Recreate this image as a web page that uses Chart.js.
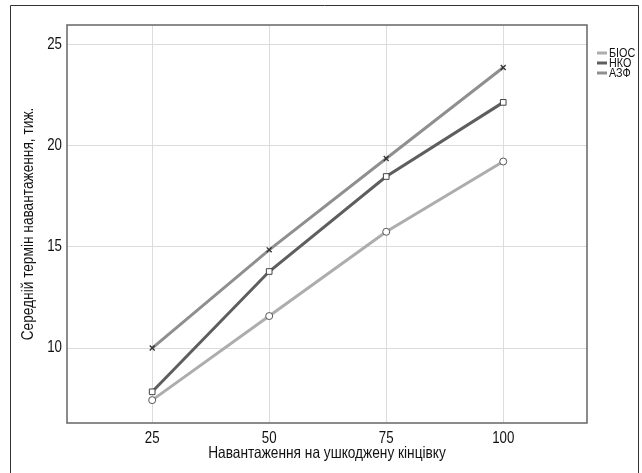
<!DOCTYPE html>
<html>
<head>
<meta charset="utf-8">
<script src="https://cdn.jsdelivr.net/npm/chart.js@4/dist/chart.umd.min.js"></script>
<style>
html,body{margin:0;padding:0;background:#fff;}
#wrap{position:relative;width:642px;height:473px;}
</style>
</head>
<body>
<div id="wrap"><canvas id="c" width="642" height="473"></canvas></div>
<script>
const categories = [25, 50, 75, 100];
const biosValues = [7.43, 11.58, 15.74, 19.21];
const nkoValues = [7.84, 13.78, 18.47, 22.13];
const azfValues = [10.0, 14.85, 19.36, 23.85];
const seriesNames = ['БІОС', 'НКО', 'АЗФ'];
const xTicks = [25, 50, 75, 100];
const yTicks = [10, 15, 20, 25];
const xTitle = 'Навантаження на ушкоджену кінцівку';
const yTitle = 'Середній термін навантаження, тиж.';

const FONT = '"Liberation Sans", Arial, sans-serif';
let narrow = 0.83;
const toPts = (vals) => categories.map((x, i) => ({x: x, y: vals[i]}));

const narrowText = {
  id: 'narrowText',
  beforeInit(chart) {
    const ctx = chart.ctx;
    if (ctx.__narrowed) return;
    const orig = ctx.fillText.bind(ctx);
    ctx.fillText = function (text, x, y, maxWidth) {
      ctx.save();
      ctx.translate(x, y);
      ctx.scale(narrow, 1);
      orig(text, 0, 0);
      ctx.restore();
    };
    ctx.__narrowed = true;
  }
};

const frame = {
  id: 'frame',
  beforeDraw(chart) {
    const ctx = chart.ctx;
    ctx.save();
    ctx.strokeStyle = '#333';
    ctx.lineWidth = 1;
    ctx.beginPath();
    ctx.moveTo(10.5, 480); ctx.lineTo(10.5, 5.5); ctx.lineTo(638.5, 5.5); ctx.lineTo(638.5, 480);
    ctx.stroke();
    ctx.restore();
  },
  afterDraw(chart) {
    const ctx = chart.ctx;
    const a = chart.chartArea;
    ctx.save();
    ctx.strokeStyle = '#666';
    ctx.lineWidth = 1.5;
    ctx.strokeRect(a.left, a.top, a.right - a.left, a.bottom - a.top);
    // legend
    ctx.font = '12px ' + FONT;
    ctx.textBaseline = 'middle';
    ctx.textAlign = 'left';
    ctx.fillStyle = '#111';
    const saved = narrow;
    narrow = 0.9;
    chart.data.datasets.forEach((ds, i) => {
      const y = 53 + i * 10;
      ctx.strokeStyle = ds.borderColor;
      ctx.lineWidth = 3;
      ctx.beginPath(); ctx.moveTo(597, y); ctx.lineTo(607, y); ctx.stroke();
      ctx.fillText(ds.label, 609, y + 0.5);
    });
    narrow = saved;
    ctx.restore();
  }
};

new Chart(document.getElementById('c'), {
  type: 'line',
  data: {
    datasets: [
      {label: seriesNames[0], data: toPts(biosValues), borderColor: '#adadad', borderWidth: 3,
       pointStyle: 'circle', pointRadius: 3.5, pointBorderColor: '#555', pointBackgroundColor: '#fff', pointBorderWidth: 1},
      {label: seriesNames[1], data: toPts(nkoValues), borderColor: '#5e5e5e', borderWidth: 3,
       pointStyle: 'rect', pointRadius: 4, pointBorderColor: '#444', pointBackgroundColor: '#fff', pointBorderWidth: 1},
      {label: seriesNames[2], data: toPts(azfValues), borderColor: '#8f8f8f', borderWidth: 3,
       pointStyle: 'crossRot', pointRadius: 3.5, pointBorderColor: '#333', pointBackgroundColor: '#333', pointBorderWidth: 1.3}
    ]
  },
  options: {
    responsive: false,
    animation: false,
    layout: {padding: {top: 25, right: 55, left: 0, bottom: 0}},
    plugins: {legend: {display: false}, tooltip: {enabled: false}},
    elements: {line: {tension: 0}},
    scales: {
      x: {
        type: 'linear', min: 6.8, max: 117.9,
        afterBuildTicks: (s) => { s.ticks = xTicks.map(v => ({value: v})); },
        afterFit: (s) => { s.height = 50; },
        grid: {color: '#dcdcdc', drawTicks: false},
        border: {display: false},
        ticks: {padding: 6, color: '#111', font: {family: FONT, size: 16}},
        title: {display: true, text: xTitle, color: '#111', font: {family: FONT, size: 16.5}, padding: {top: 0, bottom: 10}}
      },
      y: {
        type: 'linear', min: 6.3, max: 25.95,
        afterBuildTicks: (s) => { s.ticks = yTicks.map(v => ({value: v})); },
        afterFit: (s) => { s.width = 67; },
        grid: {color: '#dcdcdc', drawTicks: false},
        border: {display: false},
        ticks: {padding: 5, color: '#111', font: {family: FONT, size: 16}},
        title: {display: true, text: yTitle, color: '#111', font: {family: FONT, size: 16.5}, padding: {top: 19, bottom: 0}}
      }
    }
  },
  plugins: [narrowText, frame]
});
</script>
</body>
</html>
